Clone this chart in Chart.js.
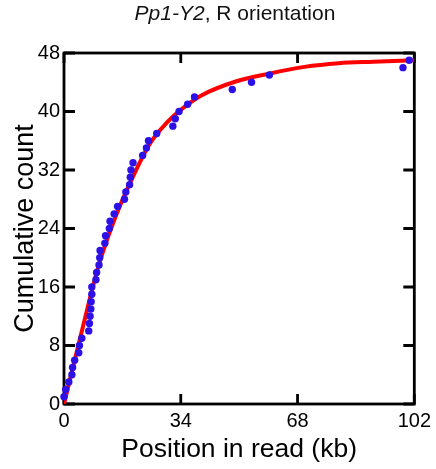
<!DOCTYPE html>
<html>
<head>
<meta charset="utf-8">
<script src="https://cdn.jsdelivr.net/npm/chart.js@4/dist/chart.umd.min.js"></script>
<style>
  html, body { margin: 0; padding: 0; background: #fff; }
  #wrap { position: relative; width: 436px; height: 469px; }
  #title {
    position: absolute; top: 1px; left: 0; width: 470px; text-align: center;
    font-family: "Liberation Sans", Arial, sans-serif; font-size: 21px; color: #111;
  }
</style>
</head>
<body>
<div id="wrap">
  <canvas id="chart" width="436" height="469"></canvas>
  <div id="title"><i>Pp1-Y2</i>, R orientation</div>
</div>
<script>
// --- dados ---
const readPosKb = [0.0, 0.5, 1.4, 2.3, 2.5, 3.1, 4.3, 4.5, 5.2, 7.2, 7.4, 7.6, 7.8, 7.9, 8.1, 8.1,
  9.3, 9.5, 10.2, 10.4, 10.5, 11.9, 12.1, 13.2, 13.4, 14.6, 15.6, 17.6, 18.0, 19.1, 19.3, 19.5,
  20.1, 22.9, 24.0, 24.6, 27.0, 31.7, 32.4, 33.5, 36.0, 38.0, 49.0, 54.6, 59.8, 98.7, 100.5];
const cumCount = [1, 2, 3, 4, 5, 6, 7, 8, 9, 10, 11, 12, 13, 14, 15, 16,
  17, 18, 19, 20, 21, 22, 23, 24, 25, 26, 27, 28, 29, 30, 31, 32,
  33, 34, 35, 36, 37, 38, 39, 40, 41, 42, 43, 44, 45, 46, 47];

// curva ajustada (vermelha)
const fitKb = [0, 5, 10, 15, 20, 25, 30, 35, 40, 50, 60, 70, 80, 90, 102];
const fitCount = [0, 9.6, 18.8, 25.6, 31.0, 35.6, 38.5, 40.6, 42.2, 44.1, 45.2, 46.1, 46.6, 46.8, 47.0];

const xTicks = [0, 34, 68, 102];
const yTicks = [0, 8, 16, 24, 32, 40, 48];

const font = '"Liberation Sans", Arial, sans-serif';

// moldura + ticks para dentro
const frameTicks = {
  id: 'frameTicks',
  beforeDatasetsDraw(chart) {
    const { ctx, chartArea: a, scales: { x, y } } = chart;
    ctx.save();
    ctx.strokeStyle = '#000';
    ctx.lineWidth = 2.8;
    ctx.beginPath();
    xTicks.forEach(v => {
      const px = x.getPixelForValue(v);
      ctx.moveTo(px, a.bottom); ctx.lineTo(px, a.bottom - 10);
      ctx.moveTo(px, a.top); ctx.lineTo(px, a.top + 10);
    });
    yTicks.forEach(v => {
      const py = y.getPixelForValue(v);
      ctx.moveTo(a.left, py); ctx.lineTo(a.left + 11, py);
      ctx.moveTo(a.right, py); ctx.lineTo(a.right - 11, py);
    });
    ctx.stroke();
    ctx.strokeRect(a.left, a.top, a.width, a.height);
    ctx.restore();
  }
};

const ctx = document.getElementById('chart').getContext('2d');
new Chart(ctx, {
  type: 'scatter',
  data: {
    datasets: [
      {
        label: 'reads',
        data: readPosKb.map((v, i) => ({ x: v, y: cumCount[i] })),
        backgroundColor: '#2d10e8', borderWidth: 0,
        pointRadius: 3.7, pointHoverRadius: 3.7,
        clip: false, order: 0
      },
      {
        label: 'fit',
        data: fitKb.map((v, i) => ({ x: v, y: fitCount[i] })),
        showLine: true, borderColor: '#ff0000', borderWidth: 4,
        pointRadius: 0, cubicInterpolationMode: 'monotone',
        order: 1
      }
    ]
  },
  options: {
    responsive: false,
    animation: false,
    layout: { padding: { left: 0, top: 53, right: 20, bottom: 0 } },
    plugins: { legend: { display: false }, tooltip: { enabled: false } },
    scales: {
      x: {
        type: 'linear', min: 0, max: 102,
        afterBuildTicks: s => { s.ticks = xTicks.map(v => ({ value: v })); },
        afterFit: s => { s.height = 65; },
        grid: { display: false, drawTicks: false },
        border: { display: false },
        ticks: { color: '#000', padding: 5, font: { family: font, size: 20 }, maxRotation: 0 },
        title: { display: true, text: 'Position in read (kb)', color: '#000',
                 font: { family: font, size: 26.5 }, padding: { top: 0, bottom: 3 } }
      },
      y: {
        type: 'linear', min: 0, max: 48,
        afterBuildTicks: s => { s.ticks = yTicks.map(v => ({ value: v })); },
        afterFit: s => { s.width = 64; },
        grid: { display: false, drawTicks: false },
        border: { display: false },
        ticks: { color: '#000', padding: 4, font: { family: font, size: 20 } },
        title: { display: true, text: 'Cumulative count', color: '#000',
                 font: { family: font, size: 27 }, padding: { top: 9, bottom: 0 } }
      }
    }
  },
  plugins: [frameTicks]
});
</script>
</body>
</html>
